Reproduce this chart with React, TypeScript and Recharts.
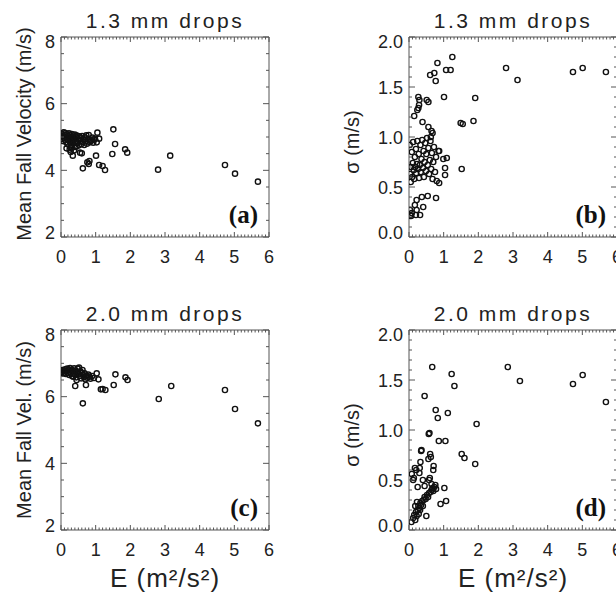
import { ScatterChart, Scatter, XAxis, YAxis } from "recharts";

// shared tick labels
const eTicks = [0, 1, 2, 3, 4, 5, 6];
const velTicks = [2, 4, 6, 8];
const sigmaTicks = [0, 0.5, 1, 1.5, 2];

// (a) 1.3 mm drops: [E, mean fall velocity]
const vel13: [number, number][] = [
  [1.51, 5.23], [1.56, 4.79], [1.48, 4.49], [1.85, 4.63], [1.91, 4.53], [2.8, 4.02], [3.15, 4.44],
  [4.73, 4.16], [5.02, 3.9], [5.68, 3.66], [1.05, 5.13], [1.1, 4.95], [1.03, 4.84], [1.01, 4.44],
  [1.1, 4.16], [1.2, 4.13], [1.27, 4.01], [0.63, 4.06], [0.76, 4.24], [0.8, 4.19], [0.82, 4.28],
  [0.55, 4.53], [0.6, 4.51], [0.34, 4.44], [0.16, 4.66], [0.25, 4.62], [0.28, 4.55], [0.95, 4.92],
  [0.9, 4.98], [0.85, 4.88],
  [0.02, 5.1], [0.04, 4.95], [0.05, 5.02], [0.06, 4.88], [0.08, 5.14], [0.09, 4.98], [0.1, 5.06],
  [0.12, 4.92], [0.13, 5.12], [0.14, 4.85], [0.15, 5.0], [0.17, 5.08], [0.18, 4.94], [0.19, 4.78],
  [0.21, 5.03], [0.22, 4.9], [0.23, 5.11], [0.25, 4.97], [0.26, 4.84], [0.27, 5.05], [0.29, 4.72],
  [0.3, 4.93], [0.31, 5.09], [0.33, 4.88], [0.35, 5.01], [0.36, 4.8], [0.38, 4.95], [0.4, 5.07],
  [0.41, 4.7], [0.43, 4.86], [0.45, 4.99], [0.46, 5.04], [0.48, 4.82], [0.5, 4.92], [0.52, 4.75],
  [0.53, 5.02], [0.55, 4.88], [0.57, 4.96], [0.59, 4.79], [0.61, 5.03], [0.63, 4.85], [0.65, 4.93],
  [0.67, 4.76], [0.69, 4.99], [0.71, 4.87], [0.73, 5.05], [0.75, 4.8], [0.78, 4.94], [0.8, 5.06],
  [0.83, 4.84], [0.87, 4.9], [0.93, 4.83], [0.98, 4.95], [0.38, 4.6], [0.3, 4.66], [0.45, 4.72],
];

// (b) 1.3 mm drops: [E, sigma]
const sig13: [number, number][] = [
  [1.25, 1.8], [0.82, 1.74], [1.07, 1.67], [1.2, 1.67], [0.61, 1.62], [0.73, 1.64], [0.77, 1.56],
  [2.8, 1.69], [3.13, 1.57], [4.73, 1.65], [5.01, 1.69], [5.68, 1.65],
  [0.27, 1.4], [0.3, 1.37], [0.29, 1.32], [0.27, 1.29], [0.24, 1.27], [0.51, 1.37], [0.56, 1.35],
  [1.01, 1.4], [1.91, 1.39], [0.15, 1.21], [0.39, 1.15], [0.56, 1.1], [0.65, 1.06], [0.68, 1.04],
  [0.63, 1.0], [1.49, 1.14], [1.55, 1.13], [1.86, 1.16], [1.52, 0.68], [0.99, 0.78], [1.09, 0.79],
  [1.04, 0.69], [1.04, 0.62], [0.87, 0.54], [0.78, 0.39], [0.54, 0.41], [0.37, 0.4], [0.22, 0.37],
  [0.17, 0.32], [0.41, 0.3], [0.22, 0.27], [0.32, 0.22], [0.2, 0.22], [0.03, 0.27], [0.08, 0.24],
  [0.04, 0.22], [0.06, 0.21], [0.87, 0.86],
  [0.02, 0.92], [0.03, 0.63], [0.05, 0.55], [0.06, 0.7], [0.08, 0.85], [0.09, 0.6], [0.11, 0.74],
  [0.12, 0.95], [0.14, 0.67], [0.15, 0.58], [0.17, 0.8], [0.18, 0.7], [0.2, 0.88], [0.21, 0.64],
  [0.23, 0.73], [0.24, 0.96], [0.26, 0.68], [0.28, 0.83], [0.29, 0.59], [0.31, 0.72], [0.33, 0.92],
  [0.34, 0.65], [0.36, 0.78], [0.38, 0.97], [0.4, 0.69], [0.42, 0.86], [0.43, 0.6], [0.45, 0.75],
  [0.47, 0.94], [0.49, 0.66], [0.5, 0.83], [0.52, 0.99], [0.54, 0.72], [0.56, 0.89], [0.58, 0.63],
  [0.6, 0.77], [0.62, 0.96], [0.64, 0.68], [0.66, 0.84], [0.68, 0.58], [0.7, 0.75], [0.72, 0.9],
  [0.75, 0.65], [0.78, 0.8], [0.8, 0.56], [0.85, 0.86],
];

// (c) 2.0 mm drops: [E, mean fall velocity]
const vel20: [number, number][] = [
  [0.63, 5.8], [0.41, 6.32], [0.72, 6.35], [1.03, 6.7], [1.08, 6.52], [1.15, 6.22], [1.28, 6.2],
  [1.2, 6.23], [1.52, 6.35], [1.57, 6.67], [1.86, 6.58], [1.92, 6.5], [2.82, 5.93], [3.18, 6.32],
  [4.73, 6.2], [5.02, 5.63], [5.68, 5.2],
  [0.02, 6.75], [0.04, 6.8], [0.06, 6.7], [0.08, 6.78], [0.1, 6.72], [0.12, 6.82], [0.14, 6.68],
  [0.16, 6.76], [0.18, 6.84], [0.2, 6.71], [0.22, 6.79], [0.24, 6.65], [0.26, 6.86], [0.28, 6.74],
  [0.3, 6.81], [0.32, 6.62], [0.34, 6.77], [0.36, 6.7], [0.38, 6.85], [0.4, 6.66], [0.42, 6.78],
  [0.44, 6.58], [0.46, 6.73], [0.48, 6.84], [0.5, 6.69], [0.52, 6.87], [0.54, 6.62], [0.56, 6.76],
  [0.58, 6.55], [0.6, 6.71], [0.62, 6.8], [0.64, 6.64], [0.66, 6.58], [0.68, 6.7], [0.7, 6.52],
  [0.73, 6.63], [0.76, 6.57], [0.79, 6.66], [0.82, 6.6], [0.85, 6.54], [0.9, 6.62], [0.95, 6.56],
  [0.35, 6.6], [0.45, 6.5],
];

// (d) 2.0 mm drops: [E, sigma]
const sig20: [number, number][] = [
  [0.67, 1.63], [1.23, 1.56], [1.31, 1.44], [0.45, 1.34], [0.77, 1.2], [0.83, 1.12], [1.12, 1.17],
  [1.95, 1.06], [2.85, 1.63], [3.2, 1.49], [4.73, 1.46], [5.01, 1.55], [5.68, 1.28], [0.57, 0.96],
  [0.59, 0.97], [0.86, 0.89], [1.05, 0.89], [1.52, 0.76], [1.6, 0.72], [1.91, 0.66], [0.35, 0.79],
  [0.36, 0.8], [0.61, 0.76], [0.63, 0.73], [0.56, 0.71], [0.71, 0.64], [0.7, 0.6], [0.33, 0.68],
  [0.31, 0.62], [0.17, 0.62], [0.21, 0.6], [0.14, 0.52], [0.08, 0.56], [0.12, 0.5], [0.3, 0.57],
  [0.4, 0.5], [0.45, 0.44], [0.58, 0.5], [0.65, 0.46], [1.02, 0.42], [1.07, 0.29], [0.91, 0.26],
  [0.07, 0.08], [0.12, 0.12], [0.15, 0.15], [0.18, 0.1], [0.2, 0.18], [0.22, 0.14], [0.25, 0.2],
  [0.27, 0.24], [0.28, 0.16], [0.3, 0.22], [0.33, 0.27], [0.35, 0.25], [0.38, 0.29], [0.42, 0.3],
  [0.45, 0.33], [0.48, 0.31], [0.5, 0.14], [0.52, 0.35], [0.55, 0.33], [0.58, 0.37], [0.62, 0.38],
  [0.65, 0.4], [0.68, 0.42], [0.7, 0.39], [0.73, 0.43], [0.76, 0.45], [0.78, 0.41], [0.23, 0.28],
  [0.18, 0.24], [0.32, 0.2], [0.4, 0.24], [0.6, 0.52], [0.25, 0.43],
];

const AXIS = "#555";
const INK = "#222";
const SANS = "'Liberation Sans', Arial, sans-serif";

const steps = (min: number, max: number, step: number) => {
  const out: number[] = [];
  const n = Math.round((max - min) / step);
  for (let i = 0; i <= n; i++) out.push(+(min + i * step).toFixed(4));
  return out;
};
const isMajor = (list: number[], v: number) => list.some((m) => Math.abs(m - v) < 1e-6);

const eMinor = steps(0, 6, 0.1);

interface PanelProps {
  left: number;
  top: number;
  width: number;
  height: number;
  margin: { top: number; right: number; bottom: number; left: number };
  yAxisWidth: number;
  points: [number, number][];
  yMajor: number[];
  yMinorStep: number;
  yDigits: number;
  yLabel: string;
  yLabelGap: number;
  yLabelShift: number;
  title: string;
  tag: string;
  showXLabel: boolean;
}

const Panel = (p: PanelProps) => {
  const data = p.points.map(([e, v]) => ({ e, v }));
  const yMin = p.yMajor[0];
  const yMax = p.yMajor[p.yMajor.length - 1];
  const yMinor = steps(yMin, yMax, p.yMinorStep);

  const bottomTick = (t: any) => {
    const v = t.payload.value;
    const major = isMajor(eTicks, v);
    return (
      <g>
        <line x1={t.x} x2={t.x} y1={t.y} y2={t.y - (major ? 5 : 2.5)} stroke={AXIS} strokeWidth={1} />
        {major && (
          <text x={t.x} y={t.y + 26} textAnchor="middle" fontSize={18} fill={INK} fontFamily={SANS}>
            {v}
          </text>
        )}
      </g>
    );
  };
  const topTick = (t: any) => {
    const major = isMajor(eTicks, t.payload.value);
    return <line x1={t.x} x2={t.x} y1={t.y} y2={t.y + (major ? 5 : 2.5)} stroke={AXIS} strokeWidth={1} />;
  };
  const leftTick = (t: any) => {
    const v = t.payload.value;
    const major = isMajor(p.yMajor, v);
    const shift = Math.abs(v - yMax) < 1e-6 ? 4 : Math.abs(v - yMin) < 1e-6 ? -5 : 0;
    return (
      <g>
        <line x1={t.x} x2={t.x + (major ? 6 : 3)} y1={t.y} y2={t.y} stroke={AXIS} strokeWidth={1} />
        {major && (
          <text x={t.x - 6} y={t.y + 6.5 + shift} textAnchor="end" fontSize={18} fill={INK} fontFamily={SANS}>
            {v.toFixed(p.yDigits)}
          </text>
        )}
      </g>
    );
  };
  const rightTick = (t: any) => {
    const major = isMajor(p.yMajor, t.payload.value);
    return <line x1={t.x} x2={t.x - (major ? 6 : 3)} y1={t.y} y2={t.y} stroke={AXIS} strokeWidth={1} />;
  };

  const titleLabel = (l: any) => {
    const vb = l.viewBox;
    if (!vb) return null;
    return (
      <text x={vb.x + vb.width / 2} y={vb.y + vb.height - 9} textAnchor="middle" fontSize={21} letterSpacing={2.5} fill={INK} fontFamily={SANS}>
        {p.title}
      </text>
    );
  };
  const xLabel = (l: any) => {
    const vb = l.viewBox;
    if (!vb || !p.showXLabel) return null;
    return (
      <text x={vb.x + vb.width / 2} y={vb.y + 57} textAnchor="middle" fontSize={26} letterSpacing={1} fill={INK} fontFamily={SANS}>
        E (m²/s²)
      </text>
    );
  };
  const yTitle = (l: any) => {
    const vb = l.viewBox;
    if (!vb) return null;
    const x = vb.x + vb.width - p.yLabelGap;
    const y = vb.y + vb.height / 2 + p.yLabelShift;
    return (
      <text x={x} y={y} transform={`rotate(-90 ${x} ${y})`} textAnchor="middle" fontSize={20} fill={INK} fontFamily={SANS}>
        {p.yLabel}
      </text>
    );
  };
  const tagLabel = (l: any) => {
    const vb = l.viewBox;
    if (!vb) return null;
    return (
      <text x={vb.x - 11} y={vb.y + vb.height - 14} textAnchor="end" fontSize={25} fontWeight="bold" fill="#111" fontFamily="'Liberation Serif', 'Times New Roman', serif">
        {p.tag}
      </text>
    );
  };

  return (
    <div style={{ position: "absolute", left: p.left, top: p.top }}>
      <ScatterChart width={p.width} height={p.height} margin={p.margin}>
        <XAxis
          xAxisId="t"
          orientation="top"
          type="number"
          dataKey="e"
          domain={[0, 6]}
          allowDataOverflow
          ticks={eMinor}
          interval={0}
          height={1}
          tickSize={0}
          tickMargin={0}
          tickLine={false}
          axisLine={{ stroke: AXIS }}
          tick={topTick}
          label={titleLabel}
        />
        <XAxis
          xAxisId="b"
          type="number"
          dataKey="e"
          domain={[0, 6]}
          allowDataOverflow
          ticks={eMinor}
          interval={0}
          height={30}
          tickSize={0}
          tickMargin={0}
          tickLine={false}
          axisLine={{ stroke: AXIS }}
          tick={bottomTick}
          label={xLabel}
        />
        <YAxis
          yAxisId="l"
          type="number"
          dataKey="v"
          domain={[yMin, yMax]}
          allowDataOverflow
          ticks={yMinor}
          interval={0}
          width={p.yAxisWidth}
          tickSize={0}
          tickMargin={0}
          tickLine={false}
          axisLine={{ stroke: AXIS }}
          tick={leftTick}
          label={yTitle}
        />
        <YAxis
          yAxisId="r"
          orientation="right"
          type="number"
          dataKey="v"
          domain={[yMin, yMax]}
          allowDataOverflow
          ticks={yMinor}
          interval={0}
          width={1}
          tickSize={0}
          tickMargin={0}
          tickLine={false}
          axisLine={{ stroke: AXIS }}
          tick={rightTick}
          label={tagLabel}
        />
        <Scatter
          xAxisId="t"
          yAxisId="r"
          data={data}
          isAnimationActive={false}
          shape={() => <g />}
        />
        <Scatter
          xAxisId="b"
          yAxisId="l"
          data={data}
          isAnimationActive={false}
          shape={(s: any) => <circle cx={s.cx} cy={s.cy} r={2.6} fill="none" stroke="#111" strokeWidth={1.4} />}
        />
      </ScatterChart>
    </div>
  );
}

export default function App() {
  return (
    <div
      style={{
        position: "absolute",
        left: 0,
        top: 0,
        width: 616,
        height: 594,
        overflow: "hidden",
        background: "#fff",
        fontFamily: SANS,
      }}
    >
      <Panel
        left={0} top={0} width={308} height={297}
        margin={{ top: 36, right: 38, bottom: 30, left: 0 }}
        yAxisWidth={61}
        points={vel13} yMajor={velTicks} yMinorStep={0.5} yDigits={0}
        yLabel="Mean Fall Velocity (m/s)" yLabelGap={30} yLabelShift={-3}
        title="1.3 mm drops" tag="(a)" showXLabel={false}
      />
      <Panel
        left={308} top={0} width={310} height={297}
        margin={{ top: 36, right: 0, bottom: 30, left: 0 }}
        yAxisWidth={101}
        points={sig13} yMajor={sigmaTicks} yMinorStep={0.1} yDigits={1}
        yLabel="σ (m/s)" yLabelGap={50} yLabelShift={5}
        title="1.3 mm drops" tag="(b)" showXLabel={false}
      />
      <Panel
        left={0} top={297} width={308} height={297}
        margin={{ top: 32, right: 38, bottom: 34, left: 0 }}
        yAxisWidth={61}
        points={vel20} yMajor={velTicks} yMinorStep={0.5} yDigits={0}
        yLabel="Mean Fall Vel. (m/s)" yLabelGap={30} yLabelShift={0}
        title="2.0 mm drops" tag="(c)" showXLabel={true}
      />
      <Panel
        left={308} top={297} width={310} height={297}
        margin={{ top: 32, right: 0, bottom: 34, left: 0 }}
        yAxisWidth={101}
        points={sig20} yMajor={sigmaTicks} yMinorStep={0.1} yDigits={1}
        yLabel="σ (m/s)" yLabelGap={50} yLabelShift={5}
        title="2.0 mm drops" tag="(d)" showXLabel={true}
      />
    </div>
  );
}
